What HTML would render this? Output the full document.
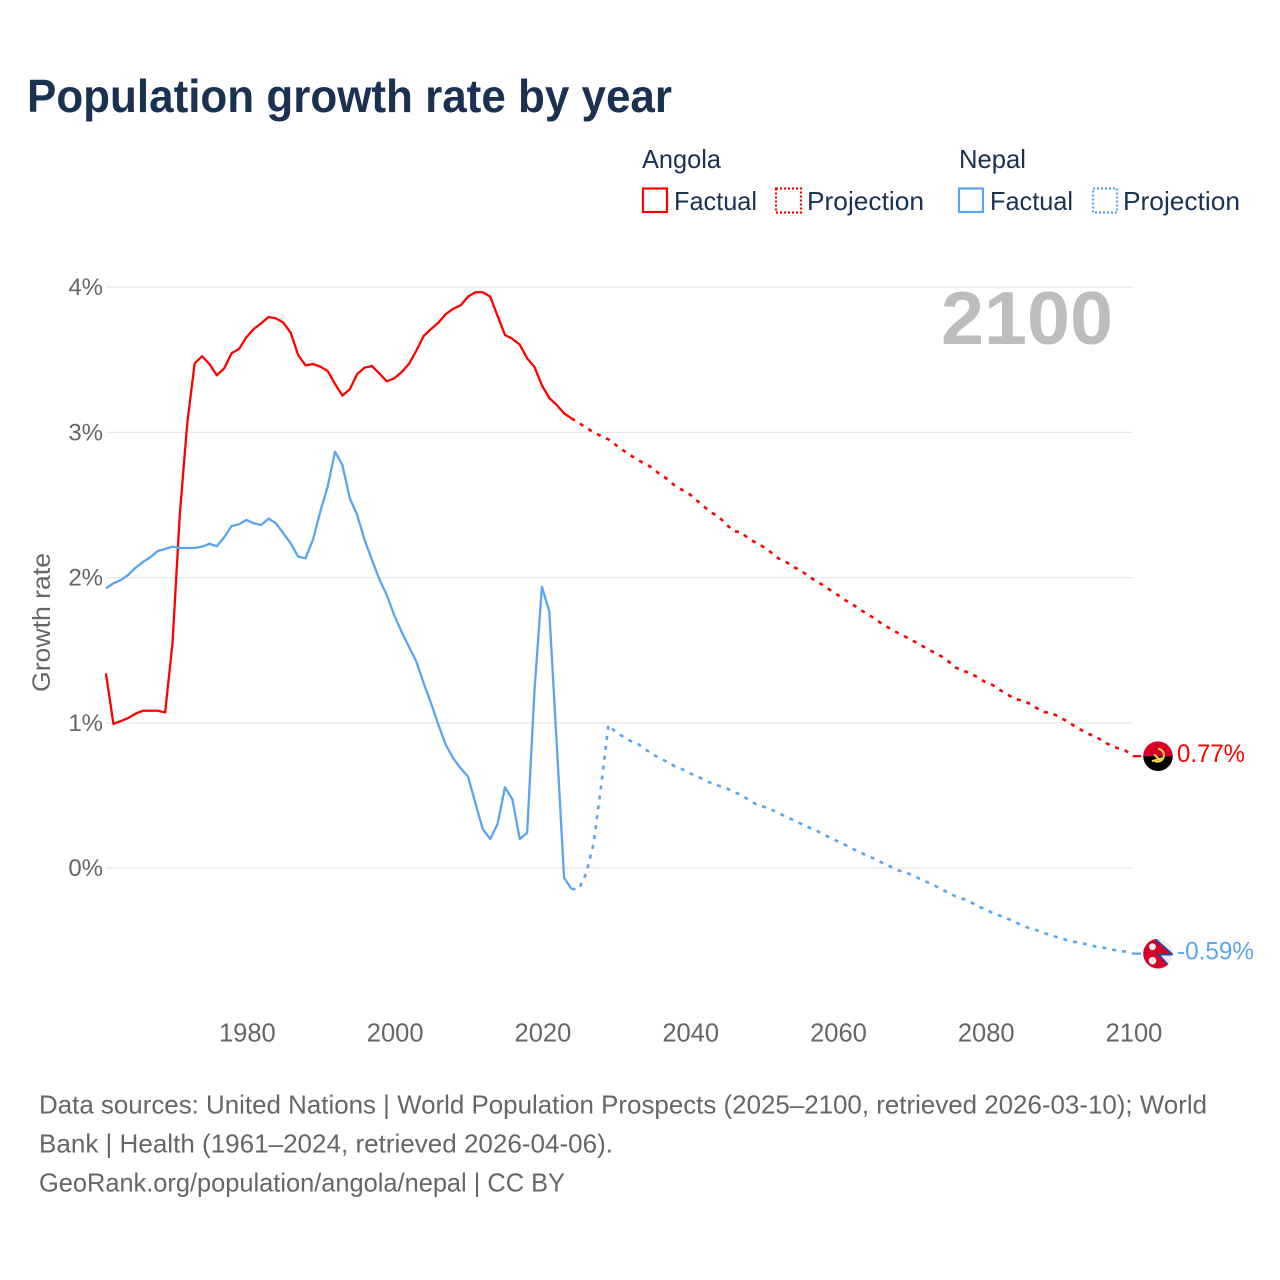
<!DOCTYPE html>
<html lang="en">
<head>
<meta charset="utf-8">
<title>Population growth rate by year</title>
<style>
  html, body { margin: 0; padding: 0; background: #fff; }
  svg { display: block; font-family: "Liberation Sans", Arial, sans-serif; }
</style>
</head>
<body>
<svg id="chart" xmlns="http://www.w3.org/2000/svg" width="1280" height="1280" viewBox="0 0 1280 1280">
  <rect width="1280" height="1280" fill="#fff"/>
  <text x="27" y="112" font-size="46" font-weight="700" fill="#1a3152" textLength="645" lengthAdjust="spacingAndGlyphs">Population growth rate by year</text>

  <g font-size="26" fill="#1a3152">
    <text x="642" y="168" textLength="79" lengthAdjust="spacingAndGlyphs">Angola</text>
    <text x="959" y="168" textLength="67" lengthAdjust="spacingAndGlyphs">Nepal</text>
    <g>
      <rect x="643" y="188.5" width="24" height="23.5" fill="none" stroke="#ff0000" stroke-width="2.2"/>
      <text x="674" y="210" textLength="83" lengthAdjust="spacingAndGlyphs">Factual</text>
    </g>
    <g>
      <rect x="776" y="188.5" width="25" height="24" fill="none" stroke="#ff0000" stroke-width="2.2" stroke-dasharray="2 2"/>
      <text x="807" y="210" textLength="117" lengthAdjust="spacingAndGlyphs">Projection</text>
    </g>
    <g>
      <rect x="959" y="188.5" width="24" height="23.5" fill="none" stroke="#5ba4ee" stroke-width="2.2"/>
      <text x="990" y="210" textLength="83" lengthAdjust="spacingAndGlyphs">Factual</text>
    </g>
    <g>
      <rect x="1093" y="188.5" width="24" height="24" fill="none" stroke="#5ba4ee" stroke-width="2.2" stroke-dasharray="2 2"/>
      <text x="1123" y="210" textLength="117" lengthAdjust="spacingAndGlyphs">Projection</text>
    </g>
  </g>

  <g id="grid"></g>
  <g id="y-ticks" font-size="24" fill="#666" text-anchor="end"></g>
  <g id="x-ticks" font-size="25.5" fill="#666" text-anchor="middle"></g>

  <text transform="translate(50,692) rotate(-90)" font-size="25" fill="#666" textLength="139" lengthAdjust="spacingAndGlyphs">Growth rate</text>
  <text x="941" y="344" font-size="75" font-weight="700" fill="#bdbdbd" textLength="172" lengthAdjust="spacingAndGlyphs">2100</text>

  <g id="series"></g>

  <defs>
    <clipPath id="flag-clip"><circle cx="0" cy="0" r="14.8"/></clipPath>
  </defs>

  <g id="end-angola">
    <g clip-path="url(#flag-clip)" transform="translate(1158,0)">
      <rect x="-15" y="-15" width="30" height="15" fill="#d80027"/>
      <rect x="-15" y="0" width="30" height="15" fill="#000"/>
      <path d="M0 -7.5 A6.5 6.5 0 1 1 -3 5" fill="none" stroke="#ffda44" stroke-width="2"/>
      <path d="M-6 5 L4 2 M-4 -2 L2 4" stroke="#ffda44" stroke-width="2" fill="none"/>
    </g>
    <text x="1177" y="6" font-size="25" fill="#ff0000" textLength="68" lengthAdjust="spacingAndGlyphs">0.77%</text>
  </g>

  <g id="end-nepal">
    <g clip-path="url(#flag-clip)" transform="translate(1158,0)">
      <circle r="15" fill="#eeeeee"/>
      <path d="M-15 -15 L-3 -15 L15 1 L1 1 L10 11 L10 15 L-15 15 Z" fill="#d80027"/>
      <path d="M-3 -15 L15 1 L1 1 L10 11" fill="none" stroke="#0f52ba" stroke-width="1.6"/>
      <circle cx="-5.5" cy="-7" r="3.4" fill="#eee"/>
      <circle cx="-5.5" cy="7" r="3.8" fill="#eee"/>
    </g>
    <text x="1177" y="6" font-size="25" fill="#5ba4ee" textLength="77" lengthAdjust="spacingAndGlyphs">-0.59%</text>
  </g>

  <g font-size="26" fill="#666">
    <text x="39" y="1113.5" textLength="1168" lengthAdjust="spacingAndGlyphs">Data sources: United Nations | World Population Prospects (2025–2100, retrieved 2026-03-10); World</text>
    <text x="39" y="1152.5" textLength="574" lengthAdjust="spacingAndGlyphs">Bank | Health (1961–2024, retrieved 2026-04-06).</text>
    <text x="39" y="1191.5" textLength="526" lengthAdjust="spacingAndGlyphs">GeoRank.org/population/angola/nepal | CC BY</text>
  </g>
</svg>

<script>
const yTickValues = [0, 1, 2, 3, 4];
const xTickYears = [1980, 2000, 2020, 2040, 2060, 2080, 2100];
const factualStartYear = 1961;
const projectionStartYear = 2025;

const angolaFactual = [1.341,0.992,1.012,1.033,1.063,1.083,1.083,1.083,1.072,1.547,2.443,3.062,3.476,3.524,3.471,3.393,3.441,3.545,3.574,3.655,3.712,3.751,3.795,3.785,3.756,3.687,3.533,3.462,3.471,3.453,3.423,3.333,3.253,3.297,3.402,3.446,3.457,3.406,3.352,3.372,3.414,3.471,3.563,3.664,3.712,3.756,3.815,3.852,3.875,3.935,3.965,3.965,3.935,3.802,3.671,3.645,3.604,3.510,3.450,3.324,3.237,3.189,3.131,3.097];

const angolaProjection = [3.065,3.032,3.001,2.975,2.952,2.913,2.877,2.842,2.810,2.782,2.755,2.707,2.679,2.631,2.603,2.574,2.530,2.486,2.447,2.415,2.364,2.319,2.312,2.266,2.240,2.211,2.174,2.133,2.110,2.075,2.050,2.013,1.979,1.949,1.915,1.882,1.846,1.818,1.782,1.749,1.720,1.682,1.653,1.623,1.598,1.572,1.541,1.515,1.486,1.460,1.424,1.380,1.357,1.343,1.311,1.281,1.260,1.226,1.194,1.166,1.152,1.132,1.100,1.074,1.065,1.042,1.012,0.980,0.950,0.923,0.902,0.873,0.842,0.824,0.808,0.77];

const nepalFactual = [1.926,1.961,1.983,2.018,2.068,2.107,2.140,2.183,2.197,2.213,2.204,2.204,2.204,2.213,2.233,2.216,2.278,2.355,2.367,2.397,2.374,2.362,2.406,2.374,2.305,2.236,2.144,2.133,2.259,2.454,2.626,2.867,2.775,2.546,2.431,2.259,2.121,1.988,1.880,1.742,1.627,1.524,1.421,1.272,1.134,0.985,0.847,0.755,0.687,0.629,0.446,0.267,0.200,0.303,0.556,0.473,0.200,0.243,1.226,1.937,1.765,0.859,-0.067,-0.145];

const nepalProjection = [-0.145,-0.037,0.170,0.560,0.985,0.935,0.904,0.875,0.854,0.818,0.783,0.755,0.730,0.700,0.680,0.652,0.634,0.604,0.583,0.565,0.549,0.523,0.503,0.468,0.439,0.422,0.404,0.379,0.353,0.331,0.306,0.282,0.262,0.234,0.209,0.184,0.160,0.133,0.110,0.085,0.064,0.037,0.014,-0.012,-0.028,-0.046,-0.071,-0.094,-0.117,-0.143,-0.172,-0.195,-0.213,-0.234,-0.264,-0.284,-0.310,-0.329,-0.349,-0.370,-0.397,-0.415,-0.429,-0.448,-0.466,-0.480,-0.496,-0.508,-0.517,-0.528,-0.542,-0.549,-0.560,-0.570,-0.576,-0.59];

const SVG_NS = 'http://www.w3.org/2000/svg';

function xScale(year) {
  return 106 + (year - 1961) * (1027 / 139);
}
function yScale(value) {
  return 868 - value * 145.2;
}
function toPoints(values, startYear) {
  return values.map(function (v, i) {
    return xScale(startYear + i).toFixed(2) + ',' + yScale(v).toFixed(2);
  }).join(' ');
}

const gridGroup = document.getElementById('grid');
const yTickGroup = document.getElementById('y-ticks');
yTickValues.forEach(function (v) {
  const line = document.createElementNS(SVG_NS, 'line');
  
  
  line.setAttribute('x1', xScale(1961));
  line.setAttribute('x2', xScale(2100));
  line.setAttribute('y1', yScale(v));
  line.setAttribute('y2', yScale(v));
  line.setAttribute('stroke', '#e8e8e8');
  line.setAttribute('stroke-width', '1.3');
  gridGroup.appendChild(line);

  const label = document.createElementNS(SVG_NS, 'text');
  
  
  label.setAttribute('x', 103);
  label.setAttribute('y', yScale(v) + 8);
  label.textContent = v + '%';
  yTickGroup.appendChild(label);
});

const xTickGroup = document.getElementById('x-ticks');
xTickYears.forEach(function (year) {
  const label = document.createElementNS(SVG_NS, 'text');
  
  
  label.setAttribute('x', xScale(year) + 1);
  label.setAttribute('y', 1041.5);
  label.textContent = year;
  xTickGroup.appendChild(label);
});

const seriesGroup = document.getElementById('series');

function drawLine(points, color, dashed) {
  const line = document.createElementNS(SVG_NS, 'polyline');
  line.setAttribute('points', points);
  line.setAttribute('fill', 'none');
  line.setAttribute('stroke', color);
  line.setAttribute('stroke-width', dashed ? '2.6' : '2.3');
  line.setAttribute('stroke-linejoin', 'round');
  if (dashed) line.setAttribute('stroke-dasharray', '4 6');
  seriesGroup.appendChild(line);
  return line;
}

const RED = '#ff0000';
const BLUE = '#5ba4ee';

const angolaFactualLine = drawLine(toPoints(angolaFactual, factualStartYear), RED, false);



const angolaProjectionLine = drawLine(
  toPoints([angolaFactual[angolaFactual.length - 1]].concat(angolaProjection), projectionStartYear - 1), RED, true);



const nepalFactualLine = drawLine(toPoints(nepalFactual, factualStartYear), BLUE, false);



const nepalProjectionLine = drawLine(
  toPoints([nepalFactual[nepalFactual.length - 1]].concat(nepalProjection), projectionStartYear - 1), BLUE, true);



function lastOf(values) {
  return values[values.length - 1];
}

const angolaEndY = yScale(lastOf(angolaProjection));
const nepalEndY = yScale(lastOf(nepalProjection));

const angolaConnector = drawLine(
  xScale(2100) + ',' + angolaEndY + ' ' + (xScale(2100) + 8) + ',' + angolaEndY, RED, false);



const nepalConnector = drawLine(
  xScale(2100) + ',' + nepalEndY + ' ' + (xScale(2100) + 8) + ',' + nepalEndY, BLUE, false);



document.getElementById('end-angola').setAttribute('transform', 'translate(0,' + angolaEndY + ')');
document.getElementById('end-nepal').setAttribute('transform', 'translate(0,' + nepalEndY + ')');
</script>
</body>
</html>
